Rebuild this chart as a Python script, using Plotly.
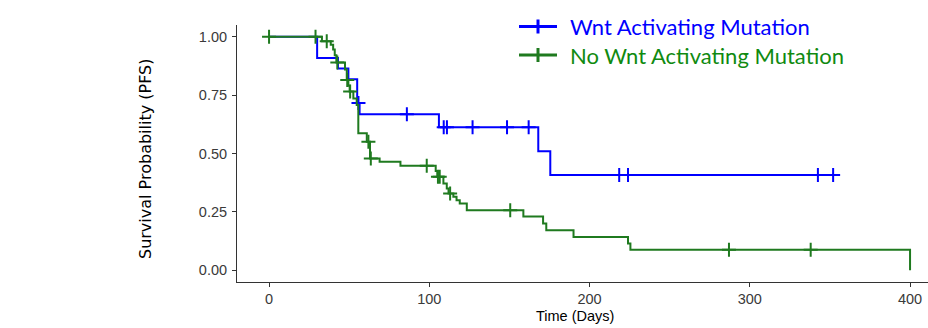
import plotly.graph_objects as go
import bisect

# ---------------- data ----------------
wnt_time = [0, 30, 43, 49.5, 55, 56.5, 106, 168, 175.5, 352]
wnt_surv = [1.0, 0.909, 0.864, 0.818, 0.716, 0.668, 0.612, 0.510, 0.408, 0.408]
wnt_censor = [55.8, 86, 109, 111, 127, 148.5, 162, 218.5, 224, 342.5, 352]

nownt_time = [0, 33, 38.5, 40, 41, 42, 47.4, 48.5, 49.5, 50.3, 52.6, 54.7, 55.7,
              61, 63, 69, 82, 104, 105, 108.8, 110.9, 112, 115, 117, 119, 123.4,
              158.7, 171, 173, 190, 224, 225.5, 400]
nownt_surv = [1.0, 0.98, 0.965, 0.945, 0.92, 0.89, 0.86, 0.815, 0.79, 0.765, 0.735, 0.708, 0.587,
              0.55, 0.479, 0.465, 0.448, 0.425, 0.40, 0.372, 0.35, 0.329, 0.315, 0.30, 0.286, 0.257,
              0.23, 0.20, 0.172, 0.143, 0.115, 0.088, 0.0]
nownt_censor = [0, 29, 36, 42.6, 48.8, 50.6, 62, 63.5, 98.4, 105.4, 106.5, 113, 150.5, 287, 338]

x_ticks = [0, 100, 200, 300, 400]
y_ticks = [0.0, 0.25, 0.5, 0.75, 1.0]
y_tick_text = ["0.00", "0.25", "0.50", "0.75", "1.00"]

labels = ["Wnt Activating Mutation", "No Wnt Activating Mutation"]
colors = ["#0000FF", "#1F7A1F"]
text_colors = ["#0000FF", "#108A10"]


def surv_at(times, survs, t):
    i = bisect.bisect_right(times, t) - 1
    return survs[max(i, 0)]


fig = go.Figure()
groups = [(wnt_time, wnt_surv, wnt_censor), (nownt_time, nownt_surv, nownt_censor)]
for (tt, ss, cc), col in zip(groups, colors):
    fig.add_trace(go.Scatter(x=tt, y=ss, mode="lines", line=dict(color=col, width=2, shape="hv"),
                             showlegend=False, hoverinfo="skip"))
    fig.add_trace(go.Scatter(x=cc, y=[surv_at(tt, ss, c) for c in cc], mode="markers",
                             marker=dict(symbol="cross-thin", size=10,
                                         line=dict(color=col, width=2)),
                             showlegend=False, hoverinfo="skip"))

# plot area: x pixels 237..928, y pixels 25..282
L, R, T, B = 237, 0, 25, 46
W, H = 928, 328
pw, ph = W - L - R, H - T - B


def px(x):
    return (x - L) / pw


def py(y):
    return (H - B - y) / ph


shapes = []
annotations = []
for i, (lab, col, tcol) in enumerate(zip(labels, colors, text_colors)):
    yy = 26.5 + 28.5 * i
    shapes.append(dict(type="line", xref="paper", yref="paper", x0=px(519), x1=px(557),
                       y0=py(yy), y1=py(yy), line=dict(color=col, width=3)))
    shapes.append(dict(type="line", xref="paper", yref="paper", x0=px(538), x1=px(538),
                       y0=py(yy - 7), y1=py(yy + 7), line=dict(color=col, width=3)))
    annotations.append(dict(text=lab, xref="paper", yref="paper", x=px(568), y=py(yy),
                            xanchor="left", yanchor="middle", showarrow=False,
                            font=dict(family="Lato", size=22, color=tcol)))

annotations.append(dict(text="Survival Probability (PFS)", xref="paper", yref="paper",
                        x=px(146), y=py(159), textangle=-90, showarrow=False,
                        xanchor="center", yanchor="middle",
                        font=dict(family="DejaVu Sans", size=16, color="#000000")))
annotations.append(dict(text="Time (Days)", xref="paper", yref="paper",
                        x=px(575), y=py(316), showarrow=False,
                        xanchor="center", yanchor="middle",
                        font=dict(family="Liberation Sans", size=14.5, color="#000000")))

fig.update_layout(
    width=W, height=H,
    margin=dict(l=L, r=R, t=T, b=B),
    paper_bgcolor="white", plot_bgcolor="white",
    shapes=shapes, annotations=annotations,
    showlegend=False,
)
fig.update_xaxes(range=[-20, -20 + pw / 1.6025], tickvals=x_ticks, ticks="outside", ticklen=4,
                 tickcolor="#333333", showline=True, linecolor="#333333", linewidth=1,
                 showgrid=False, zeroline=False,
                 tickfont=dict(family="Liberation Sans", size=14.5, color="#3A3A3A"))
fig.update_yaxes(range=[-0.05, 1.05], tickvals=y_ticks, ticktext=y_tick_text, ticks="outside",
                 ticklen=4, tickcolor="#333333", showline=True, linecolor="#333333", linewidth=1,
                 showgrid=False, zeroline=False, ticklabelstandoff=2,
                 tickfont=dict(family="Liberation Sans", size=14.5, color="#3A3A3A"))

fig.write_html("out.html")
